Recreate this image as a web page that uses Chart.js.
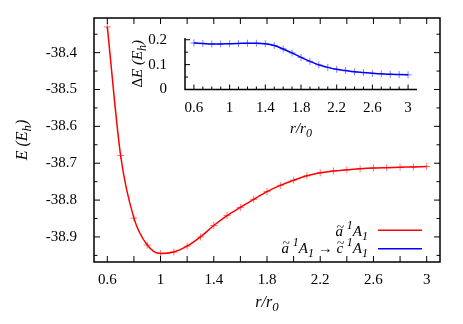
<!DOCTYPE html>
<html><head><meta charset="utf-8">
<script src="https://cdn.jsdelivr.net/npm/chart.js@4/dist/chart.umd.min.js"></script>
<style>
html,body{margin:0;padding:0;background:#fff;}
#wrap{position:relative;width:463px;height:324px;}
canvas{position:absolute;left:0;top:0;}
</style></head><body>
<div id="wrap"><canvas id="main" width="463" height="324"></canvas><canvas id="inset" width="463" height="324"></canvas></div>
<script>
// ---- data ----
const rValues = [0.6,0.7,0.8,0.9,1.0,1.1,1.2,1.3,1.4,1.5,1.6,1.7,1.8,1.9,2.0,2.1,2.2,2.3,2.4,2.5,2.6,2.7,2.8,2.9,3.0];
const energyA1 = [-38.330,-38.679,-38.849,-38.922,-38.945,-38.941,-38.925,-38.900,-38.869,-38.842,-38.820,-38.798,-38.777,-38.760,-38.746,-38.734,-38.726,-38.721,-38.718,-38.715,-38.713,-38.712,-38.711,-38.710,-38.709];
const gapAC = [0.187,0.185,0.183,0.183,0.184,0.185,0.186,0.186,0.184,0.177,0.163,0.147,0.129,0.113,0.099,0.089,0.081,0.076,0.071,0.068,0.065,0.063,0.061,0.060,0.059];
const seriesLabels = ['ã ¹A₁', 'ã ¹A₁ → c̃ ¹A₁'];
const xTickLabels = [0.6,1,1.4,1.8,2.2,2.6,3];
const xMinorTicks = [0.8,1.2,1.6,2.0,2.4,2.8];
const yTickLabels = [-38.9,-38.8,-38.7,-38.6,-38.5,-38.4];
const yMinorTicks = [-38.95,-38.85,-38.75,-38.65,-38.55,-38.45,-38.35];
const insetXTickLabels = [0.6,1,1.4,1.8,2.2,2.6,3];
const insetXMinorTicks = [0.7,0.8,0.9,1.1,1.2,1.3,1.5,1.6,1.7,1.9,2.0,2.1,2.3,2.4,2.5,2.7,2.8,2.9];
const insetYTickLabels = [0,0.1,0.2];
const insetYMinorTicks = [0.05,0.15];

// ---- rich text helpers ----
const SERIF = "'Liberation Serif', 'DejaVu Serif', serif";
Chart.defaults.font.family = SERIF;
Chart.defaults.font.size = 15;
Chart.defaults.color = '#000';

function segFont(s, base){ const size = (s.sup||s.sub) ? base*0.8 : base; return (s.up?'':'italic ') + size + 'px ' + SERIF; }
function richWidth(ctx, segs, base){ let w=0; for(const s of segs){ ctx.font=segFont(s,base); w+=ctx.measureText(s.t).width; } return w; }
function drawRich(ctx, segs, x, y, base, align){
  const w = richWidth(ctx, segs, base);
  let cx = align==='right' ? x-w : align==='center' ? x-w/2 : x;
  ctx.textBaseline='alphabetic'; ctx.textAlign='left'; ctx.fillStyle='#000';
  for(const s of segs){
    ctx.font = segFont(s, base);
    const dy = s.sup ? -base*0.45 : s.sub ? base*0.27 : 0;
    ctx.fillText(s.t, cx, y+dy);
    const sw = ctx.measureText(s.t).width;
    if(s.tilde){
      ctx.font = (base*0.9)+'px '+SERIF;
      const tw = ctx.measureText('~').width;
      ctx.fillText('~', cx + sw/2 - tw/2 + 1, y - base*0.36);
    }
    cx += sw;
  }
}
const legendSegs = [
  [{t:'a',tilde:true},{t:' '},{t:'1',sup:true},{t:'A'},{t:'1',sub:true}],
  [{t:'a',tilde:true},{t:' '},{t:'1',sup:true},{t:'A'},{t:'1',sub:true},{t:' → ',up:true},{t:'c',tilde:true},{t:' '},{t:'1',sup:true},{t:'A'},{t:'1',sub:true}]
];
const yTitleSegs = [{t:'E'},{t:' ('},{t:'E'},{t:'h',sub:true},{t:')'}];
const xTitleSegs = [{t:'r/r'},{t:'0',sub:true}];
const insetYTitleSegs = [{t:'Δ',up:true},{t:'E'},{t:' ('},{t:'E'},{t:'h',sub:true},{t:')'}];

function tickLine(ctx, x1, y1, x2, y2){ ctx.beginPath(); ctx.moveTo(x1,y1); ctx.lineTo(x2,y2); ctx.stroke(); }

const mainDecor = {
  id:'mainDecor',
  afterDraw(chart){
    const ctx = chart.ctx, a = chart.chartArea, xs = chart.scales.x, ys = chart.scales.y;
    ctx.save();
    ctx.strokeStyle='#000'; ctx.lineWidth=1.5;
    ctx.strokeRect(a.left, a.top, a.right-a.left, a.bottom-a.top);
    ctx.lineWidth=1;
    const maj=6, mn=3.5;
    xTickLabels.forEach(v=>{ const p=xs.getPixelForValue(v); tickLine(ctx,p,a.bottom,p,a.bottom-maj); tickLine(ctx,p,a.top,p,a.top+maj); });
    xMinorTicks.forEach(v=>{ const p=xs.getPixelForValue(v); tickLine(ctx,p,a.bottom,p,a.bottom-maj); tickLine(ctx,p,a.top,p,a.top+maj); });
    yTickLabels.forEach(v=>{ const p=ys.getPixelForValue(v); tickLine(ctx,a.left,p,a.left+maj,p); tickLine(ctx,a.right,p,a.right-maj,p); });
    yMinorTicks.forEach(v=>{ const p=ys.getPixelForValue(v); tickLine(ctx,a.left,p,a.left+mn,p); tickLine(ctx,a.right,p,a.right-mn,p); });
    // titles
    drawRich(ctx, xTitleSegs, (a.left+a.right)/2, 307, 16, 'center');
    ctx.save(); ctx.translate(27, (a.top+a.bottom)/2); ctx.rotate(-Math.PI/2);
    drawRich(ctx, yTitleSegs, 0, 0, 16, 'center'); ctx.restore();
    // legend
    const rows = [{y:236, ly:230.3, color:'#ff0000'},{y:252.7, ly:248.7, color:'#0000ff'}];
    rows.forEach((r,i)=>{
      drawRich(ctx, legendSegs[i], 368, r.y, 15, 'right');
      ctx.strokeStyle=r.color; ctx.lineWidth=1.5;
      tickLine(ctx, 378, r.ly, 422, r.ly);
    });
    ctx.restore();
  }
};

const insetDecor = {
  id:'insetDecor',
  afterDraw(chart){
    const ctx = chart.ctx, a = chart.chartArea, xs = chart.scales.x, ys = chart.scales.y;
    ctx.save();
    ctx.strokeStyle='#000'; ctx.lineWidth=1.5;
    ctx.beginPath(); ctx.moveTo(a.left, a.top); ctx.lineTo(a.left, a.bottom); ctx.lineTo(a.right, a.bottom); ctx.stroke();
    ctx.lineWidth=1;
    const maj=5, mn=3;
    insetXTickLabels.forEach(v=>{ const p=xs.getPixelForValue(v); tickLine(ctx,p,a.bottom,p,a.bottom-maj); });
    insetXMinorTicks.forEach(v=>{ const p=xs.getPixelForValue(v); tickLine(ctx,p,a.bottom,p,a.bottom-mn); });
    insetYTickLabels.forEach(v=>{ const p=ys.getPixelForValue(v); tickLine(ctx,a.left,p,a.left+maj,p); });
    insetYMinorTicks.forEach(v=>{ const p=ys.getPixelForValue(v); tickLine(ctx,a.left,p,a.left+mn,p); });
    drawRich(ctx, xTitleSegs, (a.left+a.right)/2, 133, 15, 'center');
    ctx.save(); ctx.translate(142, (a.top+a.bottom)/2); ctx.rotate(-Math.PI/2);
    drawRich(ctx, insetYTitleSegs, 0, 0, 15, 'center'); ctx.restore();
    ctx.restore();
  }
};

const tickFont = {family: SERIF, size: 15};

new Chart(document.getElementById('main'), {
  type:'line',
  data:{ datasets:[{
    label: seriesLabels[0],
    data: rValues.map((r,i)=>({x:r, y:energyA1[i]})),
    borderColor:'#ff0000', borderWidth:1.5, cubicInterpolationMode:'monotone',
    pointStyle:'cross', pointRadius:3.5, pointBorderWidth:1, pointBorderColor:'rgba(255,0,0,0.55)', pointBackgroundColor:'rgba(255,0,0,0.55)'
  }]},
  options:{
    responsive:false, animation:false, devicePixelRatio:1,
    layout:{padding:{top:17, right:23, left:0, bottom:0}},
    plugins:{legend:{display:false}, tooltip:{enabled:false}},
    scales:{
      x:{type:'linear', min:0.5, max:3.1,
        grid:{display:false}, border:{display:false},
        afterBuildTicks(s){ s.ticks = xTickLabels.map(v=>({value:v})); },
        afterFit(s){ s.height = 62; },
        ticks:{ padding:1, color:'#000', font:tickFont, maxRotation:0, autoSkip:false, callback:(v)=>String(v) } },
      y:{type:'linear', min:-38.968, max:-38.306,
        grid:{display:false}, border:{display:false},
        afterBuildTicks(s){ s.ticks = yTickLabels.map(v=>({value:v})); },
        afterFit(s){ s.width = 94; },
        ticks:{ padding:9, color:'#000', font:tickFont, autoSkip:false, callback:(v)=>v.toFixed(1) } }
    }
  },
  plugins:[mainDecor]
});

new Chart(document.getElementById('inset'), {
  type:'line',
  data:{ datasets:[{
    label: seriesLabels[1],
    data: rValues.map((r,i)=>({x:r, y:gapAC[i]})),
    borderColor:'#0000ff', borderWidth:1.5, cubicInterpolationMode:'monotone',
    pointStyle:'cross', pointRadius:3.5, pointBorderWidth:1, pointBorderColor:'rgba(0,0,255,0.5)', pointBackgroundColor:'rgba(0,0,255,0.5)'
  }]},
  options:{
    responsive:false, animation:false, devicePixelRatio:1,
    layout:{padding:{top:38, right:46, left:0, bottom:0}},
    plugins:{legend:{display:false}, tooltip:{enabled:false}},
    scales:{
      x:{type:'linear', min:0.5, max:3.1,
        grid:{display:false}, border:{display:false},
        afterBuildTicks(s){ s.ticks = insetXTickLabels.map(v=>({value:v})); },
        afterFit(s){ s.height = 324-89.5; },
        ticks:{ padding:2, color:'#000', font:tickFont, maxRotation:0, autoSkip:false, callback:(v)=>String(v) } },
      y:{type:'linear', min:0, max:0.207,
        grid:{display:false}, border:{display:false},
        afterBuildTicks(s){ s.ticks = insetYTickLabels.map(v=>({value:v})); },
        afterFit(s){ s.width = 185; },
        ticks:{ padding:10, color:'#000', font:tickFont, autoSkip:false, callback:(v)=>String(v) } }
    }
  },
  plugins:[insetDecor]
});
</script>
</body></html>
